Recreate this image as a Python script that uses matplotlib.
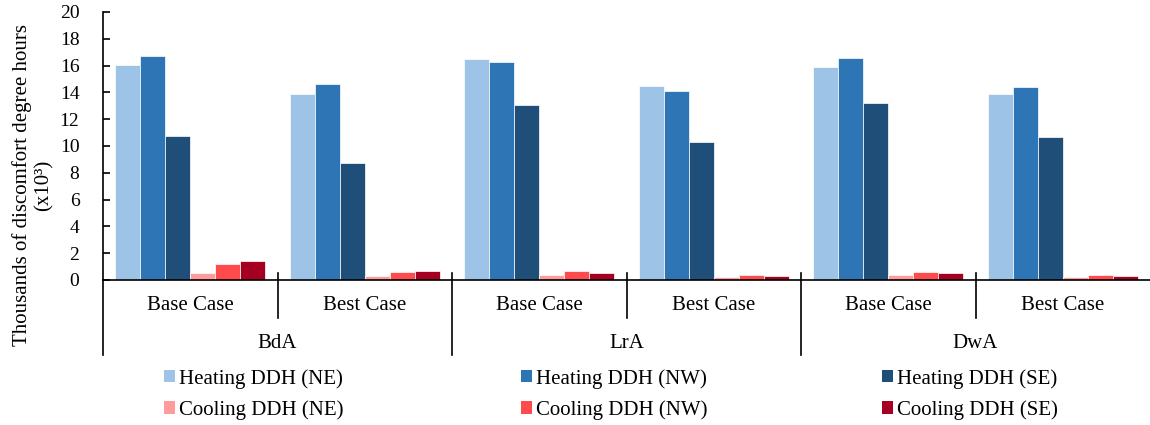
import matplotlib
matplotlib.use("Agg")
import matplotlib.pyplot as plt
import matplotlib.transforms as mtransforms
from matplotlib.patches import Patch

plt.rcParams['font.family'] = ['Liberation Serif', 'DejaVu Serif']
plt.rcParams['font.size'] = 15

# Data
sites = ["BdA", "LrA", "DwA"]
cases = ["Base Case", "Best Case"]
series_names = ["Heating DDH (NE)", "Heating DDH (NW)", "Heating DDH (SE)",
                "Cooling DDH (NE)", "Cooling DDH (NW)", "Cooling DDH (SE)"]
# one list per series, ordered BdA Base, BdA Best, LrA Base, LrA Best, DwA Base, DwA Best
heating_ne = [16.05, 13.9, 16.5, 14.5, 15.9, 13.85]
heating_nw = [16.7, 14.65, 16.3, 14.1, 16.55, 14.4]
heating_se = [10.75, 8.75, 13.05, 10.3, 13.2, 10.7]
cooling_ne = [0.5, 0.3, 0.35, 0.25, 0.4, 0.25]
cooling_nw = [1.2, 0.6, 0.65, 0.4, 0.6, 0.35]
cooling_se = [1.4, 0.65, 0.55, 0.3, 0.55, 0.3]
series_values = [heating_ne, heating_nw, heating_se, cooling_ne, cooling_nw, cooling_se]
colors = ["#9DC3E6", "#2E75B6", "#1F4E79", "#FF9B9B", "#FF4B4B", "#A50021"]
yticks = [0, 2, 4, 6, 8, 10, 12, 14, 16, 18, 20]

W, H = 1150, 425
fig = plt.figure(figsize=(W / 100, H / 100), dpi=100)
ax = fig.add_axes([103 / W, 1 - 280 / H, 1 - 103 / W, 268 / H])

n_groups = len(sites) * len(cases)
bw = 1 / 7
for i, (vals, col, name) in enumerate(zip(series_values, colors, series_names)):
    xs = [g + (i + 1) / 7 for g in range(n_groups)]
    ax.bar(xs, vals, width=bw, color=col, edgecolor="white", linewidth=0.5, label=name)

ax.set_xlim(0, n_groups)
ax.set_ylim(0, 20)
ax.set_yticks(yticks)
ax.set_xticks([])
for s in ["top", "right"]:
    ax.spines[s].set_visible(False)
for s in ["left", "bottom"]:
    ax.spines[s].set_linewidth(1.2)
    ax.spines[s].set_color("black")
ax.tick_params(axis="y", direction="in", length=5, width=1.2, pad=17, labelsize=14)

# Two-level category axis
trans = mtransforms.blended_transform_factory(ax.transData, ax.transAxes)
top_y = 7 / 268
mid_y = -38 / 268
low_y = -75 / 268
ax.plot([0, 0], [0, low_y], transform=trans, color="black", lw=1.2, clip_on=False)
for g in range(1, n_groups):
    bottom = low_y if g % 2 == 0 else mid_y
    ax.plot([g, g], [top_y, bottom], transform=trans, color="black", lw=1.2, clip_on=False)
for g in range(n_groups):
    ax.text(g + 0.5, -25 / 268, cases[g % 2], transform=trans, ha="center", va="center", fontsize=15)
for k, site in enumerate(sites):
    ax.text(2 * k + 1, -64 / 268, site, transform=trans, ha="center", va="center", fontsize=15)

fig.text(33 / W, 1 - 185 / H, "Thousands of discomfort degree hours\n(x10³)",
         rotation=90, ha="center", va="center", multialignment="center", fontsize=15)

# Legend: three columns, heating on the first row, cooling on the second
col_x = [164, 521, 882]
for c in range(3):
    handles = [Patch(facecolor=colors[c], edgecolor="none"),
               Patch(facecolor=colors[c + 3], edgecolor="none")]
    labels = [series_names[c], series_names[c + 3]]
    fig.legend(handles, labels, loc="upper left", bbox_to_anchor=(col_x[c] / W, 1 - 369 / H),
               frameon=False, borderpad=0, borderaxespad=0, handlelength=0.52,
               handleheight=0.52, handletextpad=0.18, labelspacing=0.55, fontsize=15)

fig.savefig("out.png", dpi=100)
